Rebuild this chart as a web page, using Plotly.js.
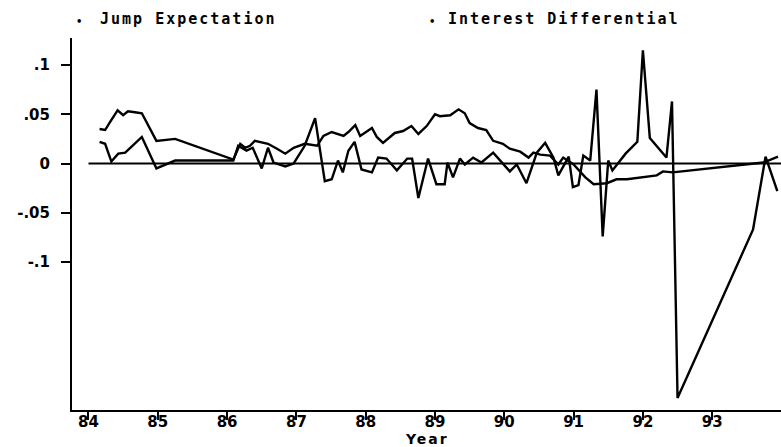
<!DOCTYPE html>
<html>
<head>
<meta charset="utf-8">
<script src="https://cdn.plot.ly/plotly-3.0.1.min.js"></script>
<style>
  html, body { margin: 0; padding: 0; background: #fff; }
  #chart { width: 781px; height: 447px; }
  /* wide, plotter-like spacing for the series labels */
  #chart .annotation-text { letter-spacing: 2px; }
</style>
</head>
<body>
<div id="chart"></div>
<script>
// Interest differential (smooth series), decimal years
const interestYear = [84.16, 84.24, 84.31, 84.42, 84.50, 84.57, 84.67, 84.77, 84.98, 85.25,
  86.09, 86.19, 86.26, 86.33, 86.40, 86.47, 86.59, 86.72, 86.84, 86.96,
  87.12, 87.30, 87.39, 87.51, 87.68, 87.75, 87.85, 87.92, 88.09, 88.16,
  88.25, 88.42, 88.54, 88.66, 88.76, 88.88, 89.00, 89.07, 89.22, 89.34,
  89.43, 89.50, 89.62, 89.74, 89.84, 89.98, 90.08, 90.23, 90.35, 90.42,
  90.52, 90.66, 90.78, 90.85, 91.00, 91.17, 91.29, 91.48, 91.62, 91.77,
  92.01, 92.20, 92.29, 92.43, 93.74, 93.95];
const interestDiff = [0.035, 0.034, 0.042, 0.054, 0.049, 0.053, 0.052, 0.051, 0.023, 0.025,
  0.004, 0.020, 0.016, 0.018, 0.023, 0.022, 0.020, 0.015, 0.010, 0.016,
  0.020, 0.018, 0.028, 0.032, 0.028, 0.032, 0.039, 0.028, 0.036, 0.027,
  0.021, 0.031, 0.033, 0.038, 0.030, 0.038, 0.050, 0.048, 0.049, 0.055,
  0.051, 0.041, 0.036, 0.034, 0.023, 0.020, 0.015, 0.012, 0.006, 0.011,
  0.009, 0.008, -0.001, 0.006, -0.001, -0.014, -0.021, -0.020, -0.016, -0.016,
  -0.014, -0.012, -0.008, -0.009, 0.001, 0.007];

// Jump expectation (volatile series), decimal years
const jumpYear = [84.16, 84.24, 84.33, 84.43, 84.53, 84.77, 84.98, 85.25, 86.09, 86.16,
  86.28, 86.37, 86.50, 86.59, 86.67, 86.84, 86.96, 87.12, 87.27, 87.41,
  87.51, 87.60, 87.67, 87.75, 87.84, 87.94, 88.09, 88.18, 88.30, 88.45,
  88.60, 88.67, 88.76, 88.90, 89.02, 89.14, 89.18, 89.26, 89.36, 89.43,
  89.55, 89.67, 89.84, 90.08, 90.18, 90.32, 90.47, 90.59, 90.71, 90.78,
  90.93, 90.99, 91.07, 91.14, 91.24, 91.33, 91.42, 91.50, 91.56, 91.75,
  91.92, 92.00, 92.10, 92.34, 92.42, 92.50, 93.59, 93.77, 93.94];
const jumpExp = [0.022, 0.020, 0.002, 0.010, 0.011, 0.027, -0.005, 0.003, 0.003, 0.018,
  0.013, 0.016, -0.005, 0.016, 0.001, -0.003, 0.000, 0.018, 0.046, -0.018,
  -0.016, 0.003, -0.009, 0.013, 0.022, -0.006, -0.009, 0.006, 0.005, -0.007,
  0.005, 0.005, -0.035, 0.005, -0.021, -0.021, 0.001, -0.014, 0.005, -0.001,
  0.006, 0.001, 0.011, -0.008, -0.001, -0.020, 0.011, 0.021, 0.006, -0.012,
  0.007, -0.024, -0.022, 0.008, 0.003, 0.075, -0.074, 0.003, -0.007, 0.010,
  0.022, 0.115, 0.026, 0.006, 0.063, -0.238, -0.067, 0.007, -0.028];

// Axis ticks
const xTickVals = [84, 85, 86, 87, 88, 89, 90, 91, 92, 93];
const xTickText = ['84', '85', '86', '87', '88', '89', '90', '91', '92', '93'];
const yTickVals = [-0.1, -0.05, 0, 0.05, 0.1];
const yTickText = ['-.1', '-.05', '0', '.05', '.1'];
const xTitle = 'Year';

const seriesNames = ['Jump Expectation', 'Interest Differential'];

const baseFont = { family: 'DejaVu Sans, sans-serif', size: 15, color: '#000', weight: 'bold' };
const keyFont = { family: 'DejaVu Sans Mono, monospace', size: 15, color: '#000', weight: 'bold' };
const dotFont = { family: 'DejaVu Sans, sans-serif', size: 10, color: '#000', weight: 'bold' };
const lineStyle = { color: '#000', width: 2.4 };

const traces = [
  { x: jumpYear, y: jumpExp, name: seriesNames[0], type: 'scatter', mode: 'lines', line: lineStyle },
  { x: interestYear, y: interestDiff, name: seriesNames[1], type: 'scatter', mode: 'lines', line: lineStyle }
];

// series key: a dot followed by the series name, placed above the plot
const dotX = [0.0113, 0.509];
const nameX = [0.0589, 0.5566];
const keyAnnotations = [];
seriesNames.forEach((name, i) => {
  keyAnnotations.push({ xref: 'paper', yref: 'paper', x: dotX[i], y: 1.045,
    xanchor: 'center', yanchor: 'middle', showarrow: false, text: '\u2022', font: dotFont });
  keyAnnotations.push({ xref: 'paper', yref: 'paper', x: nameX[i], y: 1.05,
    xanchor: 'left', yanchor: 'middle', showarrow: false, text: name, font: keyFont });
});
// x-axis caption, tucked just under the tick labels
keyAnnotations.push({ xref: 'paper', yref: 'paper', x: 0.5, y: -0.078,
  xanchor: 'center', yanchor: 'middle', showarrow: false, text: xTitle,
  font: Object.assign({}, baseFont, { size: 14 }) });

const layout = {
  width: 781,
  height: 447,
  margin: { l: 72, r: 0, t: 38, b: 37 },
  paper_bgcolor: '#fff',
  plot_bgcolor: '#fff',
  showlegend: false,
  font: baseFont,
  xaxis: {
    range: [83.762, 93.993],
    tickvals: xTickVals,
    ticktext: xTickText,
    ticks: 'outside',
    ticklen: 8,
    tickwidth: 2,
    tickcolor: '#000',
    showline: true,
    linewidth: 2,
    linecolor: '#000',
    showgrid: false,
    zeroline: false,
    tickfont: baseFont,
    ticklabelstandoff: -11
  },
  yaxis: {
    range: [-0.2502, 0.1274],
    tickvals: yTickVals,
    ticktext: yTickText,
    ticks: 'outside',
    ticklen: 9,
    tickwidth: 2,
    tickcolor: '#000',
    showline: true,
    linewidth: 2,
    linecolor: '#000',
    showgrid: false,
    zeroline: false,
    tickfont: baseFont,
    ticklabelstandoff: 8
  },
  shapes: [
    { type: 'line', xref: 'x', yref: 'y', x0: 84, x1: 94, y0: 0, y1: 0,
      line: { color: '#000', width: 2 } }
  ],
  annotations: keyAnnotations
};

Plotly.newPlot('chart', traces, layout, { displayModeBar: false, staticPlot: true });
</script>
</body>
</html>
